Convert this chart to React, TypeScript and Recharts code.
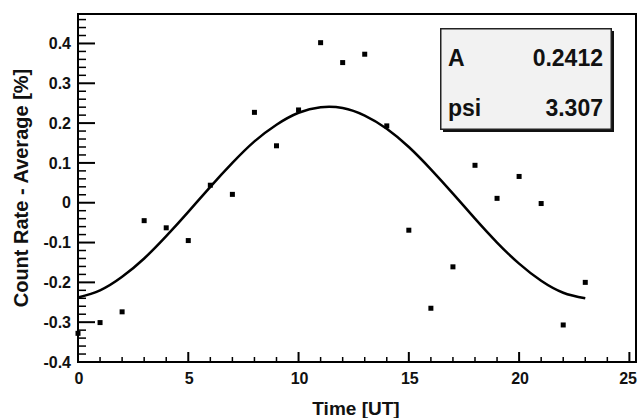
import React from 'react';
import { ComposedChart, Line, Scatter, XAxis, YAxis, ReferenceArea } from 'recharts';

// hourly count rate deviation
const hours = [0, 1, 2, 3, 4, 5, 6, 7, 8, 9, 10, 11, 12, 13, 14, 15, 16, 17, 18, 19, 20, 21, 22, 23];
const rates = [
  -0.328, -0.301, -0.274, -0.045, -0.063, -0.095, 0.044, 0.021, 0.227, 0.143, 0.233, 0.402,
  0.352, 0.373, 0.193, -0.069, -0.265, -0.161, 0.094, 0.011, 0.066, -0.002, -0.307, -0.2,
];
// fitted curve, sampled at each hour
const fitValues = [
  -0.238, -0.22, -0.186, -0.14, -0.084, -0.023, 0.04, 0.1, 0.154, 0.196, 0.226, 0.24,
  0.238, 0.219, 0.186, 0.14, 0.084, 0.023, -0.04, -0.1, -0.153, -0.196, -0.226, -0.24,
];
const fitParams = [
  { name: 'A', value: '0.2412' },
  { name: 'psi', value: '3.307' },
];

const xTicks = Array.from({ length: 26 }, (_, i) => i);
const yTicks = Array.from({ length: 44 }, (_, i) => Math.round(i * 2 - 40) / 100);

const X_MAX = 25.3;
const Y_MIN = -0.4;
const Y_MAX = 0.474;

const rows = hours.map((h, i) => ({ hour: h, rate: rates[i], fit: fitValues[i] }));

const font = '"Liberation Sans", Arial, Helvetica, sans-serif';

const XTick = (props: any) => {
  const { x, y, payload } = props;
  const major = payload.value % 5 === 0;
  const last = payload.value === 25;
  return (
    <g>
      <line x1={x} x2={x} y1={y} y2={y - (major ? 10 : 5)} stroke="#000" strokeWidth={major ? 2 : 1.5} />
      {major && (
        <text
          x={last ? 637 : x + 1}
          y={y + 21.5}
          textAnchor={last ? 'end' : 'middle'}
          fontFamily={font}
          fontWeight="bold"
          fontSize={16}
          fill="#111"
        >
          {payload.value}
        </text>
      )}
    </g>
  );
};

const YTick = (props: any) => {
  const { x, y, payload } = props;
  const major = Math.round(payload.value * 100) % 10 === 0;
  const label = String(Math.round(payload.value * 10) / 10);
  return (
    <g>
      <line x1={x} x2={x + (major ? 17 : 8)} y1={y} y2={y} stroke="#000" strokeWidth={major ? 2 : 1.5} />
      {major && (
        <text x={x - 7} y={y} dy="0.36em" textAnchor="end" fontFamily={font} fontWeight="bold" fontSize={16} fill="#111">
          {label}
        </text>
      )}
    </g>
  );
};

const Square = (props: any) => {
  const { cx, cy } = props;
  return <rect x={cx - 2.5} y={cy - 2.5} width={5} height={5} fill="#000" />;
};

export default function App() {
  return (
    <div style={{ position: 'absolute', left: 0, top: 0, width: 638, height: 418, background: '#fff' }}>
      <ComposedChart width={638} height={418} data={rows} margin={{ top: 14, right: 2, left: 0, bottom: 0 }}>
        <ReferenceArea x1={0} x2={X_MAX} y1={Y_MIN} y2={Y_MAX} fill="none" stroke="#000" strokeWidth={2} />
        <XAxis
          type="number"
          dataKey="hour"
          domain={[0, X_MAX]}
          ticks={xTicks}
          interval={0}
          tickSize={0}
          tickMargin={0}
          tickLine={false}
          tick={XTick}
          height={56}
          axisLine={{ stroke: '#000', strokeWidth: 2 }}
        />
        <YAxis
          type="number"
          domain={[Y_MIN, Y_MAX]}
          ticks={yTicks}
          interval={0}
          tickSize={0}
          tickMargin={0}
          tickLine={false}
          tick={YTick}
          width={78}
          axisLine={{ stroke: '#000', strokeWidth: 2 }}
        />
        <Line type="natural" dataKey="fit" stroke="#000" strokeWidth={2.5} dot={false} isAnimationActive={false} />
        <Scatter dataKey="rate" fill="#000" shape={Square} isAnimationActive={false} />
      </ComposedChart>
      <svg width={638} height={418} style={{ position: 'absolute', left: 0, top: 0, pointerEvents: 'none' }}>
        <text x={356} y={415} textAnchor="middle" fontFamily={font} fontWeight="bold" fontSize={19} fill="#111">
          Time [UT]
        </text>
        <text
          transform="translate(28,188) rotate(-90)"
          textAnchor="middle"
          fontFamily={font}
          fontWeight="bold"
          fontSize={20}
          fill="#111"
        >
          Count Rate - Average [%]
        </text>
        <rect x={443} y={31} width={171} height={101} fill="#111" />
        <rect x={440.75} y={28.75} width={170.5} height={100.5} fill="#f2f2f2" stroke="#222" strokeWidth={1.5} />
        {fitParams.map((p, i) => (
          <g key={p.name}>
            <text x={448} y={66 + i * 50} fontFamily={font} fontWeight="bold" fontSize={23} fill="#111">
              {p.name}
            </text>
            <text x={603} y={66 + i * 50} textAnchor="end" fontFamily={font} fontWeight="bold" fontSize={23} fill="#111">
              {p.value}
            </text>
          </g>
        ))}
      </svg>
    </div>
  );
}
